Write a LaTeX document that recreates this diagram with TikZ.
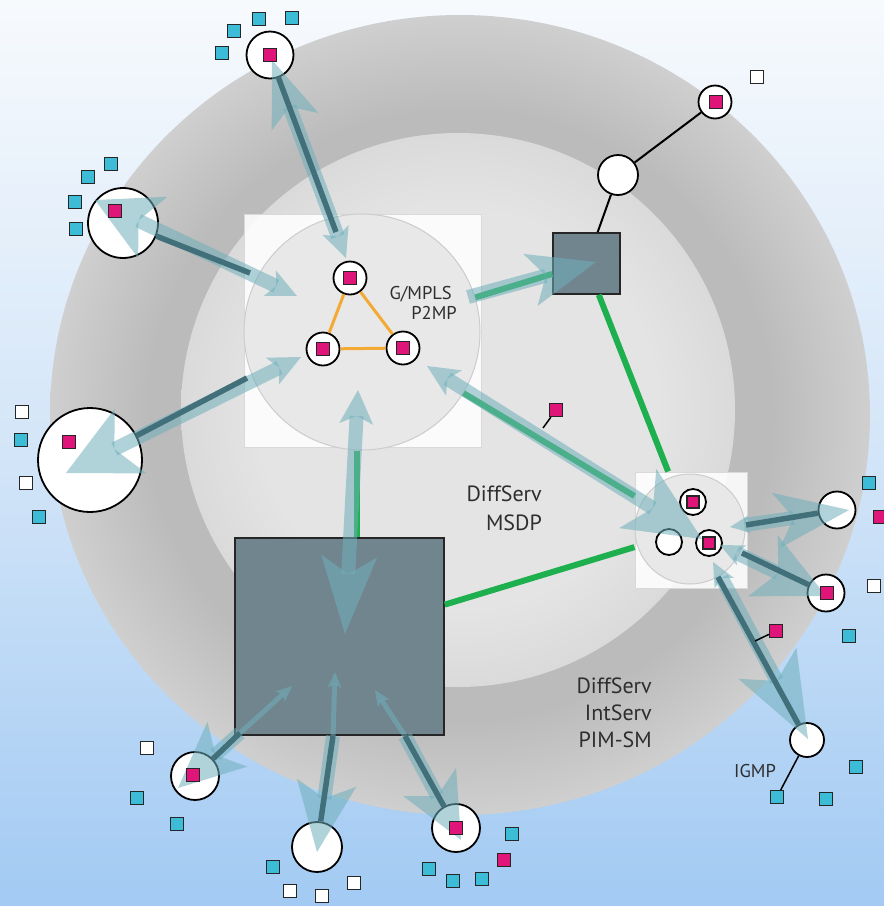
\documentclass[tikz,border=0pt]{standalone}
\usepackage{fontspec}
\setmainfont{PT Sans}
\usetikzlibrary{arrows.meta}
\definecolor{bgtop}{HTML}{F7FAFD}
\definecolor{bgmid}{HTML}{D3E5F8}
\definecolor{bgbot}{HTML}{A2CAF3}
\definecolor{ringA}{HTML}{BBBBBB}
\definecolor{ringB}{HTML}{CFCFCF}
\definecolor{diskA}{HTML}{E4E4E4}
\definecolor{diskB}{HTML}{DADADA}
\definecolor{hubgray}{HTML}{E8E8E8}
\definecolor{slate}{HTML}{71858E}
\definecolor{mag}{HTML}{E0157A}
\definecolor{cyn}{HTML}{3DBCD8}
\definecolor{grn}{HTML}{1EB04F}
\definecolor{org}{HTML}{F2AA35}
\definecolor{tealL}{HTML}{6FAFBB}
\definecolor{tealD}{HTML}{41707A}
\definecolor{txt}{HTML}{2E2E2E}
\pgfdeclareradialshading{ringshade}{\pgfpoint{0bp}{0bp}}{color(0bp)=(ringA); color(17bp)=(ringA); color(19bp)=(ringA); color(25bp)=(ringB); color(50bp)=(ringB)}
\pgfdeclareradialshading{diskshade}{\pgfpoint{0bp}{0bp}}{color(0bp)=(diskA); color(18bp)=(diskA); color(25bp)=(diskB); color(50bp)=(diskB)}
\begin{document}
\begin{tikzpicture}[x=1pt,y=-1pt,
  wc/.style={circle, draw=black, line width=1.8pt, fill=white, inner sep=0pt},
  pk/.style={rectangle, draw=black!85, line width=1.2pt, fill=mag, minimum size=13pt, inner sep=0pt},
  cy/.style={pk, fill=cyn},
  wh/.style={pk, fill=white},
  dsq/.style={rectangle, draw=black!85, line width=1.5pt, fill=slate, inner sep=0pt},
  panel/.style={rectangle, fill=white, fill opacity=0.88, draw=black!15, line width=1pt, inner sep=0pt},
  hub/.style={circle, fill=hubgray, draw=black!20, line width=1pt, inner sep=0pt},
  grnline/.style={draw=grn, line width=6pt},
  blk/.style={draw=black, line width=2pt},
  band/.style={draw=tealL, line width=14pt, opacity=0.55},
  thinband/.style={draw=tealL, line width=5pt, opacity=0.55},
  core/.style={draw=tealD, line width=5.5pt},
  lbl/.style={text=txt, font=\fontsize{22}{26}\selectfont, inner sep=0pt},
  slbl/.style={text=txt, font=\fontsize{18.5}{22}\selectfont, inner sep=0pt}
]
\useasboundingbox (0,0) rectangle (884,906);
% background
\shade[top color=bgtop, bottom color=bgbot, middle color=bgmid] (0,0) rectangle (884,906);
% zones
\shade[shading=ringshade] (460,415) ellipse [x radius=410, y radius=400];
\shade[shading=diskshade] (458,410) circle [radius=277];

% panels and hubs
\node[panel, minimum width=237pt, minimum height=233pt] (pa) at (362.5,330.5) {};
\node[hub, minimum size=236pt] (gm) at (362,332) {};
\node[panel, minimum width=112pt, minimum height=116pt] (rp) at (691,530) {};
\node[hub, minimum size=110pt] (rh) at (690,529) {};

% main squares
\node[dsq, minimum width=67pt, minimum height=61pt] (ss) at (586.5,263.5) {};
\node[dsq, minimum width=209pt, minimum height=197pt] (bs) at (339.5,636.5) {};

% circles
\node[wc, minimum size=33pt] (n1) at (350,278) {};
\node[wc, minimum size=33pt] (n2) at (323,349) {};
\node[wc, minimum size=33pt] (n3) at (403,348) {};
\node[wc, minimum size=40pt] (w1) at (618,175) {};
\node[wc, minimum size=33pt] (tr) at (715,102) {};
\node[wc, minimum size=26pt] (r1) at (693,502) {};
\node[wc, minimum size=26pt] (r2) at (669,542) {};
\node[wc, minimum size=26pt] (r3) at (709,543) {};
\node[wc, minimum size=37pt] (ru) at (837,510) {};
\node[wc, minimum size=37pt] (rl) at (826,593) {};
\node[wc, minimum size=34pt] (ig) at (807,740) {};
\node[wc, minimum size=47pt] (t) at (270,55) {};
\node[wc, minimum size=70pt] (lu) at (123,223) {};
\node[wc, minimum size=104pt] (ll) at (90,460) {};
\node[wc, minimum size=48pt] (bl) at (195,776) {};
\node[wc, minimum size=50pt] (bm) at (317,847) {};
\node[wc, minimum size=48pt] (br) at (456,828) {};

% green links
\draw[grnline] (gm) -- (ss);
\draw[grnline] (gm) -- (rp);
\draw[grnline] (ss) -- (rp);
\draw[grnline] (bs) -- (rp);
\draw[grnline] ([xshift=-5pt]gm.south) -- ([xshift=-5pt]gm.south |- bs.north);
% orange triangle
\draw[draw=org, line width=3pt] (n1) -- (n2) (n2) -- (n3) (n3) -- (n1);
% black links
\draw[blk] (ss) -- (w1);
\draw[blk] (w1) -- (tr);

% arrow tip coordinates
\coordinate (a1u) at (272,60);  \coordinate (a1d) at (346,258);
\coordinate (a2u) at (95,200);  \coordinate (a2d) at (297,296);
\coordinate (a3u) at (66,473);  \coordinate (a3d) at (301,357);
\coordinate (a4u) at (358,390); \coordinate (a4d) at (345,634);
\coordinate (a5s) at (468,297); \coordinate (a5d) at (596,262);
\coordinate (a6u) at (427,366); \coordinate (a6d) at (702,539);
\coordinate (a7u) at (730,527); \coordinate (a7d) at (849,510);
\coordinate (a8u) at (720,545); \coordinate (a8d) at (826,596);
\coordinate (a9u) at (713,562); \coordinate (a9d) at (808,739);
\coordinate (a10u) at (292,686); \coordinate (a10d) at (178,788);
\coordinate (a11u) at (335,672); \coordinate (a11d) at (317,852);
\coordinate (a12u) at (375,690); \coordinate (a12d) at (461,840);
% core end points on hubs
\coordinate (c1) at (336,232);
\coordinate (c2) at (250,273);
\coordinate (c3) at (247,378);
\coordinate (c7) at (746,525);
\coordinate (c8) at (742,553);
\coordinate (c9) at (718,577);
\coordinate (c10) at (240,733);
\coordinate (c11) at (333,736);
\coordinate (c12) at (405,736);

% translucent bands
\draw[band, {Stealth[length=66pt,width=50pt,inset=16pt,line width=0pt]}-{Stealth[length=30pt,width=28pt,inset=7pt,line width=0pt]}] (a1u) -- (a1d);
\draw[band, {Stealth[length=64pt,width=68pt,inset=16pt,line width=0pt]}-{Stealth[length=30pt,width=28pt,inset=7pt,line width=0pt]}] (a2u) -- (a2d);
\draw[band, {Stealth[length=72pt,width=72pt,inset=18pt,line width=0pt]}-{Stealth[length=32pt,width=30pt,inset=8pt,line width=0pt]}] (a3u) -- (a3d);
\draw[band, {Stealth[length=34pt,width=34pt,inset=8pt,line width=0pt]}-{Stealth[length=78pt,width=56pt,inset=18pt,line width=0pt]}] (a4u) -- (a4d);
\draw[band, -{Stealth[length=68pt,width=54pt,inset=16pt,line width=0pt]}] (a5s) -- (a5d);
\draw[band, {Stealth[length=32pt,width=30pt,inset=8pt,line width=0pt]}-{Stealth[length=76pt,width=70pt,inset=18pt,line width=0pt]}] (a6u) -- (a6d);
\draw[band, {Stealth[length=20pt,width=18pt,inset=5pt,line width=0pt]}-{Stealth[length=74pt,width=56pt,inset=18pt,line width=0pt]}] (a7u) -- (a7d);
\draw[band, {Stealth[length=24pt,width=22pt,inset=6pt,line width=0pt]}-{Stealth[length=70pt,width=68pt,inset=17pt,line width=0pt]}] (a8u) -- (a8d);
\draw[band, {Stealth[length=24pt,width=22pt,inset=6pt,line width=0pt]}-{Stealth[length=86pt,width=66pt,inset=20pt,line width=0pt]}] (a9u) -- (a9d);
\draw[thinband, {Stealth[length=16pt,width=14pt,inset=4pt,line width=0pt]}-] (a10u) -- (c10);
\draw[band, -{Stealth[length=66pt,width=60pt,inset=16pt,line width=0pt]}] (c10) -- (a10d);
\draw[thinband, {Stealth[length=16pt,width=14pt,inset=4pt,line width=0pt]}-] (a11u) -- (c11);
\draw[band, -{Stealth[length=70pt,width=60pt,inset=16pt,line width=0pt]}] (c11) -- (a11d);
\draw[thinband, {Stealth[length=16pt,width=14pt,inset=4pt,line width=0pt]}-] (a12u) -- (c12);
\draw[band, -{Stealth[length=66pt,width=60pt,inset=16pt,line width=0pt]}] (c12) -- (a12d);

% dark cores
\draw[core] (t) -- (c1);
\draw[core] (lu) -- (c2);
\draw[core] (ll) -- (c3);
\draw[core] (c7) -- (ru);
\draw[core] (c8) -- (rl);
\draw[core] (c9) -- (ig);
\draw[core] (c10) -- (bl);
\draw[core] (c11) -- (bm);
\draw[core] (c12) -- (br);

% pink markers inside circles
\node[pk] (pn1) at (n1) {};
\node[pk] (pn2) at (n2) {};
\node[pk] (pn3) at (n3) {};
\node[pk] (ptr) at (716,102) {};
\node[pk, minimum size=12pt] (pr1) at (r1) {};
\node[pk, minimum size=12pt] (pr3) at (r3) {};
\node[pk] (prl) at (827,593) {};
\node[pk] (pt) at (270,55) {};
\node[pk] (plu) at (115,211) {};
\node[pk] (pll) at (69,442) {};
\node[pk] (pbl) at (193,775) {};
\node[pk] (pbr) at (456,828) {};

% packets on links with tethers
\node[pk] (pkA) at (556,410) {};
\coordinate (tA) at (543,428);
\draw[black, line width=1.5pt] (pkA) -- (tA);
\node[pk] (pkB) at (776,631) {};
\coordinate (tB) at (755,641);
\draw[black, line width=1.5pt] (pkB) -- (tB);

% loose squares
\foreach \p [count=\i] in {(222,53),(234,31),(259,19),(292,18),(111,164),(88,177),(75,202),(76,229),(21,440),(39,517),(869,483),(849,636),(856,767),(826,799),(137,798),(177,824),(273,867),(429,869),(453,881),(482,879),(512,834)}
  \node[cy] (cq\i) at \p {};
\foreach \p [count=\i] in {(757,77),(22,412),(26,483),(874,586),(147,748),(290,891),(322,896),(354,883)}
  \node[wh] (wq\i) at \p {};
\node[pk] (pq1) at (880,517) {};
\node[pk] (pq2) at (504,860) {};
\node[cy] (igq) at (777,797) {};
\draw[black, line width=1.5pt] (ig) -- (igq);

% labels
\node[slbl, anchor=base east] (lg1) at (452,299) {G/MPLS};
\node[slbl, anchor=base east] (lg2) at (457,319) {P2MP};
\node[lbl, anchor=base east] (ld1) at (542,501) {DiffServ};
\node[lbl, anchor=base east] (ld2) at (542,530) {MSDP};
\node[lbl, anchor=base east] (lo1) at (652,693) {DiffServ};
\node[lbl, anchor=base east] (lo2) at (652,720) {IntServ};
\node[lbl, anchor=base east] (lo3) at (652,747) {PIM-SM};
\node[slbl, anchor=base west] (lig) at (734,777) {IGMP};
\end{tikzpicture}
\end{document}
